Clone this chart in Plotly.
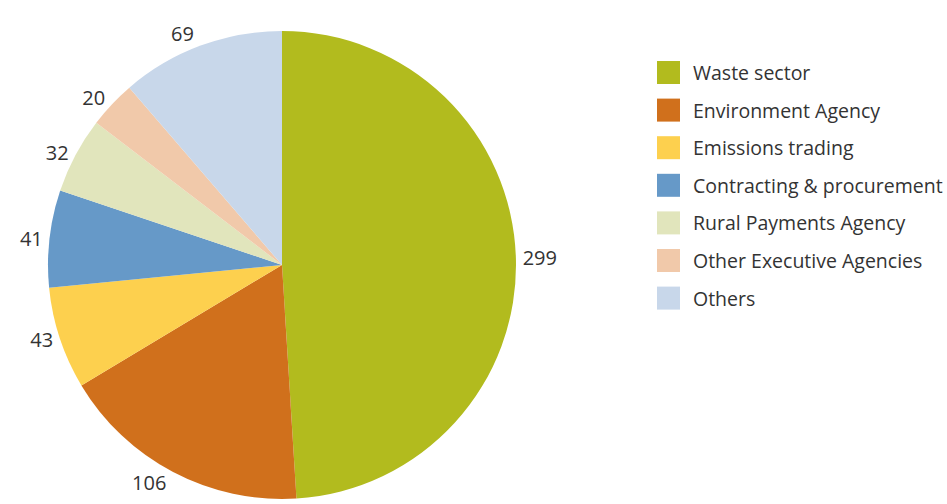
import plotly.graph_objects as go

categories = ["Waste sector", "Environment Agency", "Emissions trading",
              "Contracting & procurement", "Rural Payments Agency",
              "Other Executive Agencies", "Others"]
values = [299, 106, 43, 41, 32, 20, 69]
colors = ["#B2BB1E", "#D0701C", "#FDD04E", "#6699C8", "#E1E5BC", "#F1C9AA", "#C8D7EA"]

W, H = 947, 504
FONT = "Open Sans, Noto Sans, sans-serif"
TXT = "#333333"

fig = go.Figure(go.Pie(
    labels=categories, values=values, sort=False, direction="clockwise", rotation=0,
    marker=dict(colors=colors, line=dict(width=0)),
    textinfo="value", textposition="outside",
    textfont=dict(family=FONT, size=20, color=TXT),
    showlegend=False, hoverinfo="label+value",
    domain=dict(x=[48 / W, 516 / W], y=[5 / H, 473 / H]),
))

# custom legend
x0, sw, y_first, step = 657, 23, 72.5, 37.6
shapes, annots = [], []
for i, (c, col) in enumerate(zip(categories, colors)):
    yc = y_first + i * step
    shapes.append(dict(type="rect", xref="paper", yref="paper",
                       x0=x0 / W, x1=(x0 + sw) / W,
                       y0=1 - (yc + sw / 2) / H, y1=1 - (yc - sw / 2) / H,
                       fillcolor=col, line=dict(width=0)))
    annots.append(dict(xref="paper", yref="paper", x=691 / W, y=1 - yc / H,
                       xanchor="left", yanchor="middle", text=c, showarrow=False,
                       font=dict(family=FONT, size=19.5, color=TXT)))

fig.update_layout(width=W, height=H, margin=dict(l=0, r=0, t=0, b=0),
                  paper_bgcolor="white", plot_bgcolor="white",
                  shapes=shapes, annotations=annots)
fig.write_html("out.html", config={"displayModeBar": False},
               post_script="document.body.style.margin='0';document.body.style.padding='0';")
